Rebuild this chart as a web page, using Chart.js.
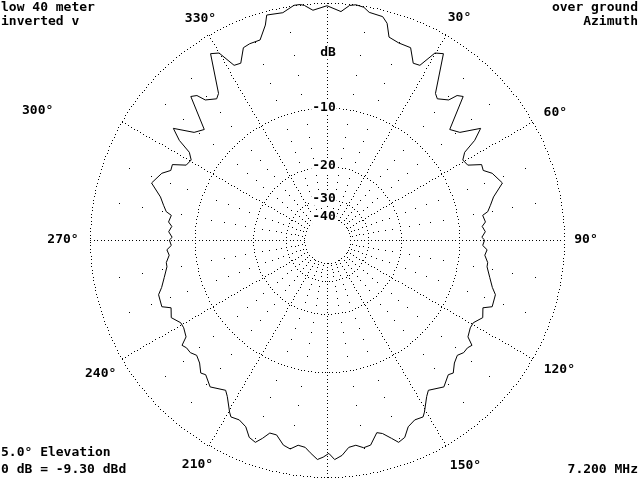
<!DOCTYPE html>
<html>
<head>
<meta charset="utf-8">
<script src="https://cdn.jsdelivr.net/npm/chart.js@4.4.1/dist/chart.umd.min.js"></script>
<style>
  html, body { margin: 0; padding: 0; background: #fff; }
  #wrap { width: 640px; height: 480px; position: relative; }
</style>
</head>
<body>
<div id="wrap"><canvas id="myChart"></canvas></div>
<script>
// azimuth pattern, degrees clockwise from top, gain in dB relative to max
const azimuth = [
  0, 3.5, 5.5, 7, 9, 10.5, 14, 15.5, 17, 20, 23.5, 26, 28, 30, 32, 36.5, 38, 41, 42, 43.5,
  48, 51, 54, 56, 57.5, 59.5, 62, 64, 66, 68, 72, 75.5, 78, 80, 81, 83.5, 85, 87, 89, 90,
  92, 93.5, 95.5, 98, 99.5, 103, 106, 108, 112, 113.5, 116.5, 119.5, 121.5, 124.5, 126, 127.5,
  129.5, 131.5, 134, 136.5, 138, 141.5, 146, 147.5, 150.5, 151.5, 154, 156.5, 158.5, 160.5,
  162, 164, 165.5, 168, 170, 172, 174, 176, 178, 179.5, 181, 182.5, 184.5, 186, 188, 190,
  192, 194.5, 196.5, 198, 199.5, 201.5, 203.5, 206, 208.5, 209.5, 212.5, 214, 218.5, 222,
  223.5, 226, 228.5, 230.5, 232.5, 234, 235.5, 238.5, 240.5, 243.5, 246.5, 248, 252, 254,
  257, 260.5, 262, 264.5, 266.5, 268, 270, 271, 273, 275, 276.5, 279, 280, 282, 284.5, 288,
  292, 294, 296, 298, 300.5, 302.5, 304, 306, 309, 312, 316.5, 318, 319, 322, 323.5, 328,
  330, 332, 334, 336.5, 338.5, 341.5, 344, 345, 349, 352, 353.5, 354.5, 356.5
];
const gainDb = [
  -0.2, -0.6, -0.1, 0, -0.1, -0.4, -0.5, -0.9, -1.9, -2.1, -2.1, -3.2, -3.1, -1.6, -1.3, -4.5, -4.8, -4.2, -3.4, -3.1,
  -6.2, -5.6, -3.8, -4.9, -6.4, -7.0, -6.8, -5.5, -5.6, -4.9, -4.3, -5.5, -6.0, -6.4, -7.0, -6.8, -7.2, -6.9, -7.3, -7.0,
  -7.2, -6.7, -6.9, -6.5, -6.5, -6.0, -5.5, -5.0, -4.9, -5.7, -5.3, -5.9, -5.9, -5.6, -4.8, -5.0,
  -5.0, -5.3, -5.0, -4.4, -4.6, -4.0, -4.6, -4.2, -3.1, -2.8, -2.9, -2.6, -1.9, -1.7,
  -2.2, -2.8, -3.0, -2.1, -2.0, -2.3, -2.2, -1.6, -1.3, -1.8, -1.5, -1.3, -1.8, -2.2, -2.3, -1.9,
  -2.1, -2.8, -2.8, -2.2, -1.7, -1.9, -2.6, -2.9, -2.8, -3.1, -4.2, -4.6, -4.0, -4.6,
  -4.4, -5.0, -5.3, -5.0, -5.0, -4.8, -5.6, -5.9, -5.9, -5.3, -5.7, -4.9, -5.0, -5.5,
  -6.0, -6.5, -6.5, -6.9, -6.7, -7.2, -7.0, -7.3, -6.9, -7.2, -6.8, -7.0, -6.4, -6.0, -5.5, -4.3,
  -4.9, -5.6, -5.5, -6.8, -7.0, -6.4, -4.9, -3.8, -5.6, -6.2, -3.1, -3.4, -4.2, -4.8, -4.5, -1.3,
  -1.6, -3.1, -3.2, -2.1, -2.0, -2.0, -1.0, -0.3, -0.4, 0, 0, -0.1, -0.5
];

const ringDb = [0, -10, -20, -30, -40];
const ringLabels = ['', '-10', '-20', '-30', '-40'];
const dotDb = [-2, -4, -6, -8, -12, -14, -16, -18, -22, -24, -26, -28, -32, -34, -36, -38];
const spokeDeg = [0, 30, 60, 90, 120, 150, 180, 210, 240, 270, 300, 330];
const angleTicks = [30, 60, 90, 120, 150, 210, 240, 270, 300, 330];

const STEP = 0.5;
const labels = Array.from({ length: 360 / STEP }, (_, i) => i * STEP);
const series = labels.map(() => null);
azimuth.forEach((a, i) => { series[Math.round(a / STEP)] = gainDb[i]; });

// ARRL log scale: radius shrinks by 0.89 every 2 dB
class ArrlScale extends Chart.RadialLinearScale {
  getDistanceFromCenterForValue(v) {
    if (v === null || v === undefined) return NaN;
    return this.drawingArea * Math.pow(0.89, -v / 2);
  }
}
ArrlScale.id = 'arrl';
Chart.register(ArrlScale);

const FONT = 'bold 13px "DejaVu Sans Mono", monospace';
const idx = d => Math.round(d / STEP) % labels.length;
// small hand nudges so the angle labels sit where the original program put them
const nudge = { 30: [3, 2], 60: [4, 2], 120: [8, 0], 150: [9, 1], 240: [-2, 4], 270: [-5, 0], 300: [-65, 0], 330: [3, 3] };

const polarGrid = {
  id: 'polarGrid',
  beforeDatasetsDraw(chart) {
    const s = chart.scales.r, ctx = chart.ctx;
    const dot = (x, y) => ctx.fillRect(Math.round(x), Math.round(y), 1, 1);
    ctx.save();
    ctx.fillStyle = '#000';
    ringDb.forEach(v => {
      const r = s.getDistanceFromCenterForValue(v);
      const n = Math.round(2 * Math.PI * r / 3.5);
      for (let k = 0; k < n; k++) {
        const t = k * 2 * Math.PI / n;
        dot(s.xCenter + r * Math.cos(t), s.yCenter + r * Math.sin(t));
      }
    });
    const r0 = s.getDistanceFromCenterForValue(-40), r1 = s.getDistanceFromCenterForValue(0);
    spokeDeg.forEach(d => {
      for (let r = r0; r <= r1; r += 3.5) {
        const p = s.getPointPosition(idx(d), r);
        dot(p.x, p.y);
      }
    });
    for (let d = 0; d < 360; d += 10) {
      if (d % 30 === 0) continue;
      dotDb.forEach(v => {
        const p = s.getPointPositionForValue(idx(d), v);
        dot(p.x, p.y);
      });
    }
    ctx.restore();
  },
  afterDraw(chart) {
    const s = chart.scales.r, ctx = chart.ctx;
    ctx.save();
    ctx.font = FONT;
    ctx.fillStyle = '#000';
    ctx.textBaseline = 'middle';
    ctx.textAlign = 'center';
    // gain labels on the 0 degree spoke
    const lab = (txt, x, y) => {
      const w = ctx.measureText(txt).width;
      ctx.fillStyle = '#fff';
      ctx.fillRect(x - w / 2 - 1, y - 7, w + 2, 14);
      ctx.fillStyle = '#000';
      ctx.fillText(txt, x, y);
    };
    ringDb.forEach((v, i) => {
      if (!ringLabels[i]) return;
      const p = s.getPointPositionForValue(0, v);
      lab(ringLabels[i], p.x - 3, p.y);
    });
    const pdb = s.getPointPositionForValue(0, -4);
    lab('dB', pdb.x + 1, pdb.y);
    angleTicks.forEach(d => {
      const p = s.getPointPosition(idx(d), s.drawingArea + 22);
      const n = nudge[d] || [0, 0];
      ctx.fillText(d + '°', p.x + n[0], p.y + n[1]);
    });
    ctx.textAlign = 'left';
    ctx.fillText('low 40 meter', 1, 8);
    ctx.fillText('inverted v', 1, 22);
    ctx.fillText('5.0° Elevation', 1, 453);
    ctx.fillText('0 dB = -9.30 dBd', 1, 470);
    ctx.textAlign = 'right';
    ctx.fillText('over ground', 638, 8);
    ctx.fillText('Azimuth', 638, 22);
    ctx.fillText('7.200 MHz', 638, 470);
    ctx.restore();
  }
};

new Chart(document.getElementById('myChart'), {
  type: 'radar',
  data: {
    labels: labels,
    datasets: [{
      label: 'Azimuth pattern',
      data: series,
      borderColor: '#000',
      borderWidth: 1,
      fill: false,
      tension: 0,
      pointRadius: 0,
      spanGaps: true
    }]
  },
  options: {
    responsive: true,
    maintainAspectRatio: false,
    animation: false,
    layout: { padding: { left: 90, right: 76, top: 3, bottom: 3 } },
    plugins: { legend: { display: false }, tooltip: { enabled: false } },
    scales: {
      r: {
        type: 'arrl',
        min: -60,
        max: 0,
        grid: { display: false },
        angleLines: { display: false },
        pointLabels: { display: false },
        ticks: { display: false }
      }
    }
  },
  plugins: [polarGrid]
});
</script>
</body>
</html>
